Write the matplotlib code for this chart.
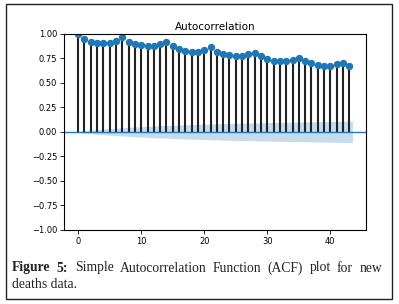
import matplotlib
matplotlib.use("Agg")
import matplotlib.pyplot as plt
from matplotlib.patches import Rectangle
import numpy as np

# ACF values, lags 0..43
acf_values = [
    1.00, 0.946, 0.915, 0.908, 0.908, 0.908, 0.925, 0.963, 0.919, 0.898,
    0.888, 0.875, 0.875, 0.895, 0.915, 0.875, 0.844, 0.827, 0.817, 0.817,
    0.834, 0.864, 0.814, 0.793, 0.783, 0.773, 0.773, 0.793, 0.807, 0.773,
    0.746, 0.725, 0.725, 0.719, 0.732, 0.753, 0.725, 0.702, 0.681, 0.671,
    0.671, 0.692, 0.705, 0.671,
]
# half width of the confidence band per lag (estimated)
band_half = [
    0.0, 0.013, 0.018, 0.024, 0.029, 0.034, 0.038, 0.042, 0.046, 0.049,
    0.053, 0.056, 0.059, 0.062, 0.064, 0.067, 0.069, 0.072, 0.074, 0.076,
    0.078, 0.080, 0.082, 0.084, 0.085, 0.087, 0.088, 0.090, 0.091, 0.093,
    0.094, 0.095, 0.097, 0.098, 0.099, 0.100, 0.101, 0.102, 0.104, 0.105,
    0.106, 0.107, 0.108, 0.109,
]
caption_words = ["Figure", "5:", "Simple", "Autocorrelation", "Function",
                 "(ACF)", "plot", "for", "new"]
caption_line2 = "deaths data."

W, H = 399, 304
fig = plt.figure(figsize=(W / 100, H / 100), dpi=100)

ax = fig.add_axes([64.3 / W, 1 - 230 / H, (366.3 - 64.3) / W, (230 - 33.7) / H])
lags = np.arange(len(acf_values))

band_x = lags.astype(float)
band_x[0] -= 0.5
band_x[-1] += 0.5
band = np.array(band_half)
ax.fill_between(band_x, -band, band, color="#1f77b4", alpha=0.25, lw=0)

ax.vlines(lags, 0, acf_values, color="#222222", lw=1.5)
ax.axhline(0, color="#1f77b4", lw=1)
ax.plot(lags, acf_values, "o", color="#1f77b4", ms=4.3)

ax.set_xlim(-2.2, 45.7)
ax.set_ylim(-1, 1)
ax.set_xticks([0, 10, 20, 30, 40])
ax.set_yticks(np.arange(-1, 1.01, 0.25))
ax.tick_params(labelsize=6, length=3, width=0.6, pad=2)
for s in ax.spines.values():
    s.set_linewidth(0.8)
ax.set_title("Autocorrelation", fontsize=7.5, pad=3)

# caption, first line justified between x=12 and x=382
cap_size = 9.8
texts = []
for i, w in enumerate(caption_words):
    texts.append(fig.text(0, 1 - 268 / H, w, fontsize=cap_size,
                          family="Liberation Serif",
                          weight="bold" if i < 2 else "normal",
                          color="#222222", va="center", ha="left"))
renderer = fig.canvas.get_renderer()
widths = [t.get_window_extent(renderer).width for t in texts]
gap = (382 - 12 - sum(widths)) / (len(widths) - 1)
x = 12
for t, wd in zip(texts, widths):
    t.set_x(x / W)
    x += wd + gap
fig.text(12 / W, 1 - 285 / H, caption_line2, fontsize=cap_size,
         family="Liberation Serif", color="#222222", va="center", ha="left")

# outer frame
fig.patches.append(Rectangle((6 / W, 1 - 299 / H), (392.3 - 6) / W,
                             (299 - 4.3) / H, transform=fig.transFigure,
                             fill=False, edgecolor="#222222", lw=1))

fig.savefig("out.png", dpi=100)
